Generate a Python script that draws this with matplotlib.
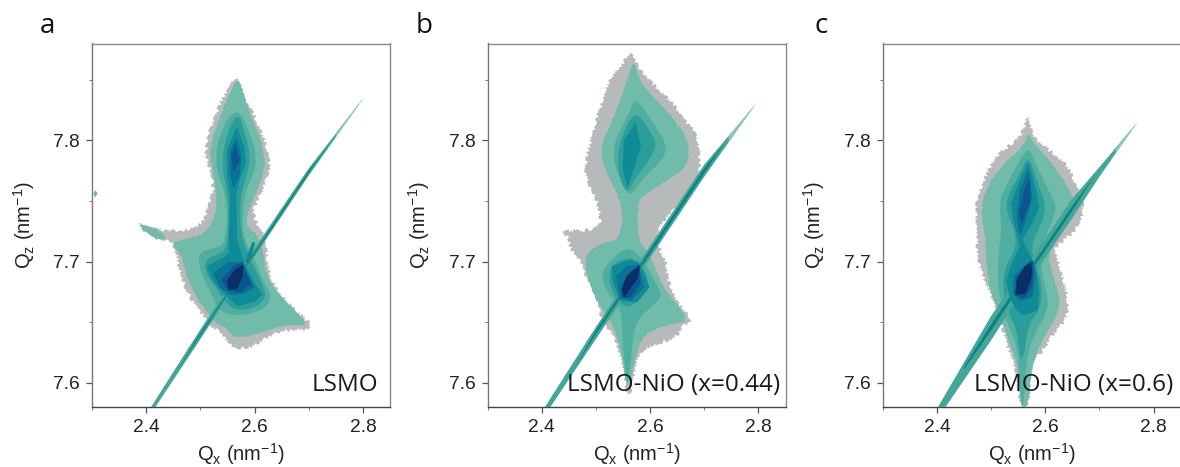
import matplotlib
matplotlib.use("Agg")
import matplotlib.pyplot as plt
from matplotlib.patches import Polygon, PathPatch
from matplotlib.path import Path
from matplotlib.ticker import MultipleLocator

plt.rcParams['font.family'] = ['Liberation Sans', 'DejaVu Sans']
plt.rcParams['mathtext.fontset'] = 'custom'
plt.rcParams['mathtext.rm'] = 'Liberation Sans'
plt.rcParams['mathtext.it'] = 'Liberation Sans'

# -------------------------------
# 1. CONTOURS (Qx, Qz)
# -------------------------------
a_1 = [(2.571,7.855),(2.575,7.838),(2.593,7.827),(2.608,7.811),(2.623,7.795),(2.629,7.781),(2.620,7.764),(2.605,7.751),
       (2.596,7.740),(2.608,7.729),(2.623,7.718),(2.623,7.699),(2.633,7.682),(2.660,7.666),(2.697,7.652),(2.708,7.644),
       (2.672,7.644),(2.636,7.641),(2.611,7.633),(2.574,7.627),(2.550,7.633),(2.537,7.644),(2.516,7.645),(2.507,7.655),
       (2.482,7.668),(2.464,7.688),(2.455,7.707),(2.445,7.718),(2.433,7.716),(2.402,7.723),(2.379,7.733),(2.402,7.729),
       (2.439,7.725),(2.476,7.726),(2.507,7.7315),(2.513,7.745),(2.525,7.759),(2.519,7.775),(2.507,7.792),(2.525,7.819),(2.550,7.844)]
a_2 = [(2.571,7.853),(2.583,7.833),(2.599,7.814),(2.614,7.797),(2.620,7.781),(2.611,7.764),(2.590,7.745),(2.583,7.729),
       (2.605,7.723),(2.617,7.707),(2.620,7.690),(2.642,7.674),(2.685,7.655),(2.699,7.647),(2.654,7.648),(2.611,7.641),
       (2.562,7.636),(2.544,7.647),(2.531,7.648),(2.513,7.658),(2.488,7.674),(2.473,7.690),(2.464,7.707),(2.445,7.715),
       (2.470,7.718),(2.507,7.723),(2.525,7.734),(2.531,7.751),(2.525,7.770),(2.516,7.792),(2.531,7.814),(2.556,7.841)]
a_spur = [(2.384,7.7315),(2.415,7.728),(2.439,7.720),(2.427,7.717),(2.402,7.723)]
a_blob = [(2.303,7.758),(2.308,7.759),(2.310,7.756),(2.307,7.753),(2.303,7.754)]
a_3 = [(2.569,7.827),(2.590,7.808),(2.602,7.792),(2.602,7.775),(2.583,7.759),(2.577,7.737),(2.580,7.718),(2.599,7.704),
       (2.617,7.682),(2.633,7.671),(2.617,7.660),(2.574,7.655),(2.537,7.658),(2.519,7.674),(2.501,7.690),(2.494,7.707),
       (2.525,7.711),(2.547,7.715),(2.550,7.751),(2.531,7.773),(2.528,7.792),(2.544,7.814)]
a_4 = [(2.569,7.825),(2.583,7.805),(2.593,7.786),(2.583,7.767),(2.573,7.753),(2.574,7.723),(2.590,7.704),(2.611,7.685),
       (2.623,7.671),(2.605,7.663),(2.574,7.659),(2.550,7.664),(2.531,7.677),(2.510,7.690),(2.507,7.701),(2.537,7.707),
       (2.550,7.712),(2.553,7.753),(2.540,7.775),(2.544,7.800)]
a_5 = [(2.567,7.810),(2.580,7.795),(2.583,7.781),(2.571,7.767),(2.565,7.756),(2.567,7.718),(2.580,7.699),(2.599,7.682),
       (2.614,7.673),(2.599,7.667),(2.568,7.664),(2.544,7.674),(2.522,7.686),(2.513,7.696),(2.544,7.703),(2.553,7.707),
       (2.556,7.756),(2.550,7.773),(2.550,7.792)]
a_wisp = [(2.583,7.700),(2.597,7.716),(2.600,7.715),(2.590,7.699)]
a_6u = [(2.567,7.801),(2.575,7.786),(2.571,7.770),(2.561,7.762),(2.555,7.775),(2.556,7.792)]
a_6l = [(2.574,7.699),(2.599,7.679),(2.580,7.674),(2.556,7.673),(2.537,7.679),(2.525,7.690),(2.550,7.699)]
a_7u = [(2.565,7.795),(2.572,7.784),(2.562,7.775),(2.558,7.786)]
a_7l = [(2.577,7.699),(2.593,7.682),(2.574,7.675),(2.550,7.677),(2.540,7.685),(2.562,7.696)]
a_8 = [(2.579,7.697),(2.577,7.688),(2.568,7.678),(2.553,7.677),(2.550,7.684),(2.562,7.692)]
a_streak = [(2.409,7.58),(2.50,7.644),(2.60,7.711),(2.70,7.777),(2.803,7.836),(2.70,7.771),(2.60,7.704),(2.50,7.636),(2.417,7.58)]
a_core = [(2.46,7.612),(2.50,7.641),(2.60,7.708),(2.70,7.775),(2.74,7.798),(2.70,7.773),(2.60,7.706),(2.50,7.639)]
a_tip = [(2.75,7.8065),(2.803,7.836),(2.75,7.803)]

b_1 = [(2.568,7.876),(2.573,7.863),(2.594,7.852),(2.625,7.838),(2.650,7.827),(2.668,7.814),(2.687,7.805),(2.693,7.784),
       (2.690,7.767),(2.674,7.753),(2.650,7.745),(2.631,7.737),(2.619,7.729),(2.613,7.723),(2.619,7.707),(2.631,7.699),
       (2.634,7.682),(2.650,7.666),(2.681,7.651),(2.662,7.648),(2.650,7.638),(2.619,7.633),(2.582,7.627),(2.573,7.611),
       (2.564,7.592),(2.558,7.588),(2.553,7.611),(2.539,7.630),(2.533,7.638),(2.508,7.655),(2.502,7.671),(2.481,7.688),
       (2.471,7.701),(2.453,7.710),(2.450,7.721),(2.432,7.726),(2.478,7.725),(2.508,7.729),(2.508,7.740),(2.499,7.753),
       (2.481,7.770),(2.481,7.781),(2.490,7.800),(2.502,7.819),(2.521,7.847),(2.545,7.862)]
b_2 = [(2.570,7.868),(2.579,7.849),(2.619,7.830),(2.656,7.811),(2.674,7.795),(2.668,7.778),(2.631,7.767),(2.582,7.753),
       (2.577,7.745),(2.577,7.718),(2.598,7.707),(2.613,7.690),(2.631,7.674),(2.676,7.651),(2.631,7.648),(2.594,7.641),
       (2.577,7.630),(2.570,7.614),(2.558,7.593),(2.551,7.614),(2.539,7.641),(2.521,7.655),(2.496,7.671),(2.481,7.693),
       (2.481,7.707),(2.508,7.715),(2.545,7.718),(2.550,7.745),(2.533,7.762),(2.514,7.778),(2.508,7.795),(2.533,7.819),(2.558,7.849)]
b_3u = [(2.573,7.836),(2.607,7.814),(2.631,7.797),(2.625,7.784),(2.588,7.770),(2.564,7.753),(2.551,7.762),(2.533,7.781),
        (2.533,7.797),(2.548,7.811),(2.564,7.825)]
b_3l = [(2.585,7.704),(2.607,7.685),(2.625,7.671),(2.594,7.660),(2.570,7.647),(2.564,7.614),(2.558,7.597),(2.553,7.614),
        (2.548,7.647),(2.545,7.663),(2.521,7.674),(2.508,7.690),(2.533,7.704),(2.558,7.712)]
b_4u = [(2.574,7.825),(2.604,7.805),(2.613,7.795),(2.594,7.781),(2.570,7.767),(2.558,7.756),(2.545,7.767),(2.539,7.786),(2.551,7.808)]
b_4l = [(2.583,7.699),(2.601,7.682),(2.570,7.663),(2.548,7.663),(2.527,7.677),(2.524,7.696),(2.558,7.704)]
b_5u = [(2.573,7.814),(2.582,7.795),(2.570,7.778),(2.558,7.762),(2.550,7.778),(2.553,7.800)]
b_5l = [(2.579,7.699),(2.598,7.679),(2.576,7.667),(2.545,7.668),(2.533,7.683),(2.530,7.696),(2.564,7.701)]
b_6 = [(2.577,7.697),(2.588,7.679),(2.564,7.668),(2.545,7.671),(2.539,7.688),(2.558,7.696)]
b_7 = [(2.580,7.697),(2.581,7.682),(2.564,7.671),(2.548,7.670),(2.551,7.682),(2.567,7.692)]
b_8 = [(2.580,7.696),(2.576,7.686),(2.561,7.677),(2.553,7.671),(2.548,7.677),(2.558,7.688)]
b_streak = [(2.406,7.58),(2.50,7.646),(2.60,7.713),(2.70,7.780),(2.795,7.830),(2.70,7.770),(2.60,7.703),(2.50,7.636),(2.416,7.58)]
b_core = [(2.50,7.643),(2.60,7.710),(2.70,7.777),(2.74,7.799),(2.70,7.773),(2.60,7.706),(2.50,7.640),(2.46,7.612)]
b_tip = [(2.745,7.804),(2.795,7.830),(2.745,7.799)]

c_1 = [(2.570,7.824),(2.574,7.805),(2.597,7.795),(2.640,7.781),(2.658,7.762),(2.674,7.745),(2.658,7.726),(2.634,7.718),
       (2.615,7.710),(2.628,7.696),(2.643,7.668),(2.640,7.652),(2.615,7.641),(2.597,7.627),(2.572,7.616),(2.572,7.58),
       (2.554,7.58),(2.548,7.608),(2.529,7.630),(2.517,7.652),(2.505,7.668),(2.483,7.688),(2.474,7.707),(2.474,7.726),
       (2.471,7.748),(2.483,7.764),(2.511,7.789),(2.548,7.800),(2.563,7.811)]
c_2 = [(2.569,7.808),(2.578,7.797),(2.615,7.781),(2.652,7.753),(2.658,7.745),(2.634,7.726),(2.603,7.707),(2.615,7.688),
       (2.628,7.668),(2.622,7.655),(2.591,7.633),(2.575,7.614),(2.569,7.58),(2.554,7.58),(2.551,7.614),(2.529,7.638),
       (2.517,7.658),(2.498,7.674),(2.492,7.696),(2.489,7.723),(2.480,7.742),(2.492,7.762),(2.523,7.781),(2.560,7.795)]
c_3 = [(2.569,7.795),(2.585,7.778),(2.609,7.756),(2.622,7.745),(2.609,7.729),(2.591,7.712),(2.594,7.688),(2.606,7.668),
       (2.603,7.658),(2.578,7.638),(2.566,7.622),(2.560,7.58),(2.555,7.58),(2.551,7.627),(2.532,7.647),(2.520,7.663),
       (2.511,7.685),(2.514,7.707),(2.520,7.729),(2.514,7.748),(2.529,7.764),(2.554,7.784)]
c_4 = [(2.569,7.789),(2.588,7.762),(2.603,7.745),(2.591,7.729),(2.572,7.712),(2.585,7.696),(2.594,7.679),(2.591,7.660),
       (2.569,7.649),(2.563,7.627),(2.554,7.616),(2.548,7.644),(2.535,7.655),(2.523,7.671),(2.523,7.693),(2.542,7.707),
       (2.548,7.721),(2.529,7.740),(2.529,7.753),(2.554,7.773)]
c_5 = [(2.569,7.781),(2.582,7.759),(2.588,7.745),(2.575,7.732),(2.557,7.718),(2.569,7.707),(2.582,7.696),(2.588,7.674),
       (2.585,7.660),(2.560,7.656),(2.548,7.660),(2.535,7.671),(2.529,7.685),(2.542,7.701),(2.554,7.712),(2.542,7.734),
       (2.538,7.748),(2.554,7.767)]
c_6u = [(2.569,7.775),(2.575,7.753),(2.563,7.734),(2.554,7.723),(2.548,7.737),(2.554,7.759)]
c_6l = [(2.575,7.701),(2.582,7.688),(2.575,7.671),(2.554,7.668),(2.542,7.674),(2.542,7.688)]
c_7u = [(2.570,7.767),(2.572,7.751),(2.557,7.732),(2.553,7.740),(2.560,7.756)]
c_7l = [(2.577,7.700),(2.575,7.679),(2.560,7.670),(2.545,7.673),(2.548,7.688)]
c_8 = [(2.574,7.699),(2.575,7.688),(2.563,7.674),(2.546,7.673),(2.548,7.684),(2.563,7.696)]
c_streak = [(2.402,7.58),(2.50,7.655),(2.55,7.688),(2.60,7.719),(2.65,7.752),(2.70,7.778),(2.770,7.815),(2.70,7.770),
            (2.65,7.736),(2.60,7.703),(2.55,7.670),(2.50,7.635),(2.416,7.58)]
c_core = [(2.45,7.613),(2.50,7.648),(2.55,7.681),(2.60,7.713),(2.65,7.746),(2.69,7.770),(2.65,7.742),(2.60,7.709),(2.55,7.677),(2.50,7.643),(2.45,7.611)]
c_tip = [(2.73,7.793),(2.770,7.815),(2.73,7.789)]

panel_letters = ["a", "b", "c"]
sample_labels = ["LSMO", "LSMO-NiO (x=0.44)", "LSMO-NiO (x=0.6)"]
x_ticks = [2.4, 2.6, 2.8]
y_ticks = [7.6, 7.7, 7.8]

a_levels = [[a_1], [a_2, a_spur, a_blob], [a_3], [a_4], [a_5, a_wisp], [a_6u, a_6l], [a_7u, a_7l], [a_8]]
b_levels = [[b_1], [b_2], [b_3u, b_3l], [b_4u, b_4l], [b_5u, b_5l], [b_6], [b_7], [b_8]]
c_levels = [[c_1], [c_2], [c_3], [c_4], [c_5], [c_6u, c_6l], [c_7u, c_7l], [c_8]]
streaks = [(a_streak, a_core, a_tip), (b_streak, b_core, b_tip), (c_streak, c_core, c_tip)]

# -------------------------------
# 2. STYLE
# -------------------------------
level_colors = ["#b6baba", "#70bbaa", "#4fae9f", "#2b9e9b", "#0f8a97", "#0b7096", "#0c5590", "#0a2f66"]
lefts = [92, 487.5, 882.7]   # axes left edge, pixels
label_right = [2.828, 2.841, 2.837]
letter_x = [40, 416, 814]
W, H = 1180, 467
ax_w, ax_h = 298, 363.5
ax_top = 43.5


def smooth_path(pts):
    # rounded outline: the read points act as quadratic control points
    mids = [((pts[k][0] + pts[(k + 1) % len(pts)][0]) / 2, (pts[k][1] + pts[(k + 1) % len(pts)][1]) / 2)
            for k in range(len(pts))]
    verts = [mids[-1]]
    codes = [Path.MOVETO]
    for k in range(len(pts)):
        verts += [pts[k], mids[k]]
        codes += [Path.CURVE3, Path.CURVE3]
    return Path(verts, codes)


fig = plt.figure(figsize=(W / 100, H / 100), dpi=100)

for i, levels in enumerate([a_levels, b_levels, c_levels]):
    ax = fig.add_axes([lefts[i] / W, 1 - (ax_top + ax_h) / H, ax_w / W, ax_h / H])

    for j, polys in enumerate(levels):
        for pts in polys:
            if j <= 3:
                p = PathPatch(smooth_path(pts), fc=level_colors[j], ec="none", zorder=2 + j)
            else:
                # small inner contours would shrink too much when rounded
                p = Polygon(pts, closed=True, fc=level_colors[j], ec=level_colors[j], lw=0.8, joinstyle="round", zorder=2 + j)
            if j == 0:
                p.set_sketch_params(scale=1.6, length=3, randomness=8)
            elif j == 1:
                p.set_sketch_params(scale=0.5, length=4, randomness=6)
            ax.add_patch(p)

    streak, core, tip = streaks[i]
    ax.add_patch(Polygon(streak, closed=True, fc="#43a698", ec="none", zorder=5.5))
    ax.add_patch(Polygon(core, closed=True, fc="#0f8083", ec="none", zorder=5.6))
    ax.add_patch(Polygon(tip, closed=True, fc="#93c9bc", ec="none", zorder=5.7))

    ax.set_xlim(2.3, 2.85)
    ax.set_ylim(7.58, 7.88)
    ax.set_xticks(x_ticks)
    ax.set_yticks(y_ticks)
    ax.xaxis.set_minor_locator(MultipleLocator(0.1))
    ax.yaxis.set_minor_locator(MultipleLocator(0.05))
    ax.tick_params(axis="both", which="major", length=4, width=0.9, color="#555555", labelsize=13.8, labelcolor="#222222", pad=4.5)
    ax.tick_params(axis="both", which="minor", length=2.5, width=0.7, color="#777777")
    for s in ax.spines.values():
        s.set_color("#8a8a8a")
        s.set_linewidth(1)
    ax.spines["left"].set_color("#777777")
    ax.spines["bottom"].set_color("#444444")

    ax.set_xlabel(r"Q$_{\mathrm{x}}$ (nm$^{\mathrm{-1}}$)", fontsize=14.5, color="#222222", labelpad=3.5)
    ax.set_ylabel(r"Q$_{\mathrm{z}}$ (nm$^{\mathrm{-1}}$)", fontsize=14.5, color="#222222", labelpad=12)

    ax.text(label_right[i], 7.598, sample_labels[i], ha="right", va="center", fontsize=17.5,
            family=["Open Sans", "DejaVu Sans"], color="#1a1a1a", zorder=20)

    fig.text(letter_x[i] / W, 1 - 33 / H, panel_letters[i], fontsize=20, family=["Open Sans", "DejaVu Sans"],
             color="#111111", va="baseline", ha="left")

fig.savefig("out.png", dpi=100)
